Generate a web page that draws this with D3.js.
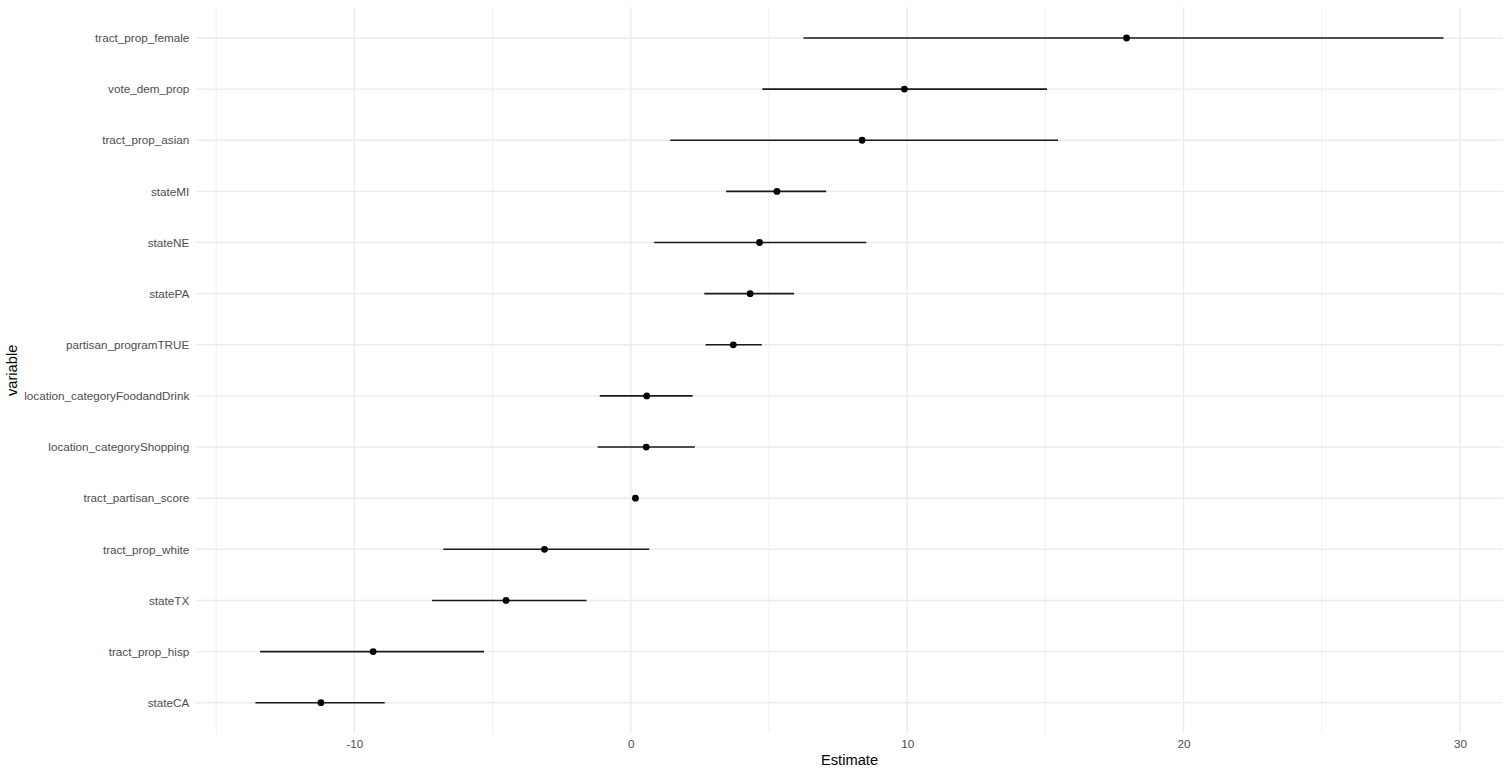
<!DOCTYPE html>
<html>
<head>
<meta charset="utf-8">
<script src="https://cdn.jsdelivr.net/npm/d3@7"></script>
<style>
  body { margin: 0; background: #fff; }
  text { font-family: "Liberation Sans", Arial, Helvetica, sans-serif; }
</style>
</head>
<body>
<div id="chart"></div>
<script>
var width = 1504;
var height = 769;

// coefficient estimates, top row first
var variables = [
    "tract_prop_female", "vote_dem_prop", "tract_prop_asian", "stateMI",
    "stateNE", "statePA", "partisan_programTRUE", "location_categoryFoodandDrink",
    "location_categoryShopping", "tract_partisan_score", "tract_prop_white",
    "stateTX", "tract_prop_hisp", "stateCA"
];
var estimates = [17.94, 9.90, 8.37, 5.29, 4.66, 4.32, 3.71, 0.58, 0.56, 0.17, -3.12, -4.51, -9.32, -11.21];
var lower     = [6.25, 4.76, 1.43, 3.45, 0.85, 2.66, 2.71, -1.12, -1.20, 0.12, -6.78, -7.19, -13.41, -13.58];
var upper     = [29.41, 15.06, 15.46, 7.07, 8.52, 5.91, 4.74, 2.24, 2.32, 0.22, 0.67, -1.60, -5.31, -8.90];

var majorTicks = [-10, 0, 10, 20, 30];
var minorTicks = [-15, -5, 5, 15, 25];

var panel = {left: 196, right: 1503, top: 7.3, bottom: 733.4};

var rows = variables.map(function(v, i) {
    return {name: v, est: estimates[i], lo: lower[i], hi: upper[i]};
});

// ggplot style 5% expansion
var lo = d3.min(lower), hi = d3.max(upper);
var pad = (hi - lo) * 0.05;

var x = d3.scaleLinear()
    .domain([lo - pad, hi + pad])
    .range([panel.left, panel.right]);

var y = d3.scalePoint()
    .domain(variables)
    .range([panel.top, panel.bottom])
    .padding(0.6);

var svg = d3.select('#chart').append('svg')
    .attr('width', width)
    .attr('height', height);

// grid
svg.append('g').selectAll('line.minor')
    .data(minorTicks)
    .enter().append('line')
    .attr('x1', function(d) { return x(d); })
    .attr('x2', function(d) { return x(d); })
    .attr('y1', panel.top)
    .attr('y2', panel.bottom)
    .attr('stroke', '#ebebeb')
    .attr('stroke-width', 0.8);

svg.append('g').selectAll('line.major')
    .data(majorTicks)
    .enter().append('line')
    .attr('x1', function(d) { return x(d); })
    .attr('x2', function(d) { return x(d); })
    .attr('y1', panel.top)
    .attr('y2', panel.bottom)
    .attr('stroke', '#ebebeb')
    .attr('stroke-width', 1.4);

svg.append('g').selectAll('line')
    .data(variables)
    .enter().append('line')
    .attr('x1', panel.left)
    .attr('x2', panel.right)
    .attr('y1', function(d) { return y(d); })
    .attr('y2', function(d) { return y(d); })
    .attr('stroke', '#ebebeb')
    .attr('stroke-width', 1.4);

// axes (no lines, no ticks)
var xAxis = svg.append('g')
    .attr('transform', 'translate(0,' + (panel.bottom + 3) + ')')
    .call(d3.axisBottom(x).tickValues(majorTicks).tickSize(0).tickPadding(3.6)
        .tickFormat(function(d) { return String(d); }));
xAxis.select('.domain').remove();
xAxis.selectAll('text')
    .attr('fill', '#4d4d4d')
    .style('font-size', '11.7px')
    .style('font-family', '"Liberation Sans", Arial, sans-serif');

var yAxis = svg.append('g')
    .attr('transform', 'translate(' + (panel.left - 3.7) + ',0)')
    .call(d3.axisLeft(y).tickSize(0).tickPadding(3));
yAxis.select('.domain').remove();
yAxis.selectAll('text')
    .attr('fill', '#4d4d4d')
    .style('font-size', '11.7px')
    .style('font-family', '"Liberation Sans", Arial, sans-serif');

// titles
svg.append('text')
    .attr('x', (panel.left + panel.right) / 2)
    .attr('y', 765)
    .attr('text-anchor', 'middle')
    .attr('fill', '#000')
    .style('font-size', '14.7px')
    .text('Estimate');

svg.append('text')
    .attr('transform', 'translate(17,' + ((panel.top + panel.bottom) / 2) + ') rotate(-90)')
    .attr('text-anchor', 'middle')
    .attr('fill', '#000')
    .style('font-size', '14.7px')
    .text('variable');

// intervals
svg.append('g').selectAll('line')
    .data(rows)
    .enter().append('line')
    .attr('x1', function(d) { return x(d.lo); })
    .attr('x2', function(d) { return x(d.hi); })
    .attr('y1', function(d) { return y(d.name); })
    .attr('y2', function(d) { return y(d.name); })
    .attr('stroke', '#1a1a1a')
    .attr('stroke-width', 1.6);

// points
svg.append('g').selectAll('circle')
    .data(rows)
    .enter().append('circle')
    .attr('cx', function(d) { return x(d.est); })
    .attr('cy', function(d) { return y(d.name); })
    .attr('r', 3.4)
    .attr('fill', '#000');
</script>
</body>
</html>
